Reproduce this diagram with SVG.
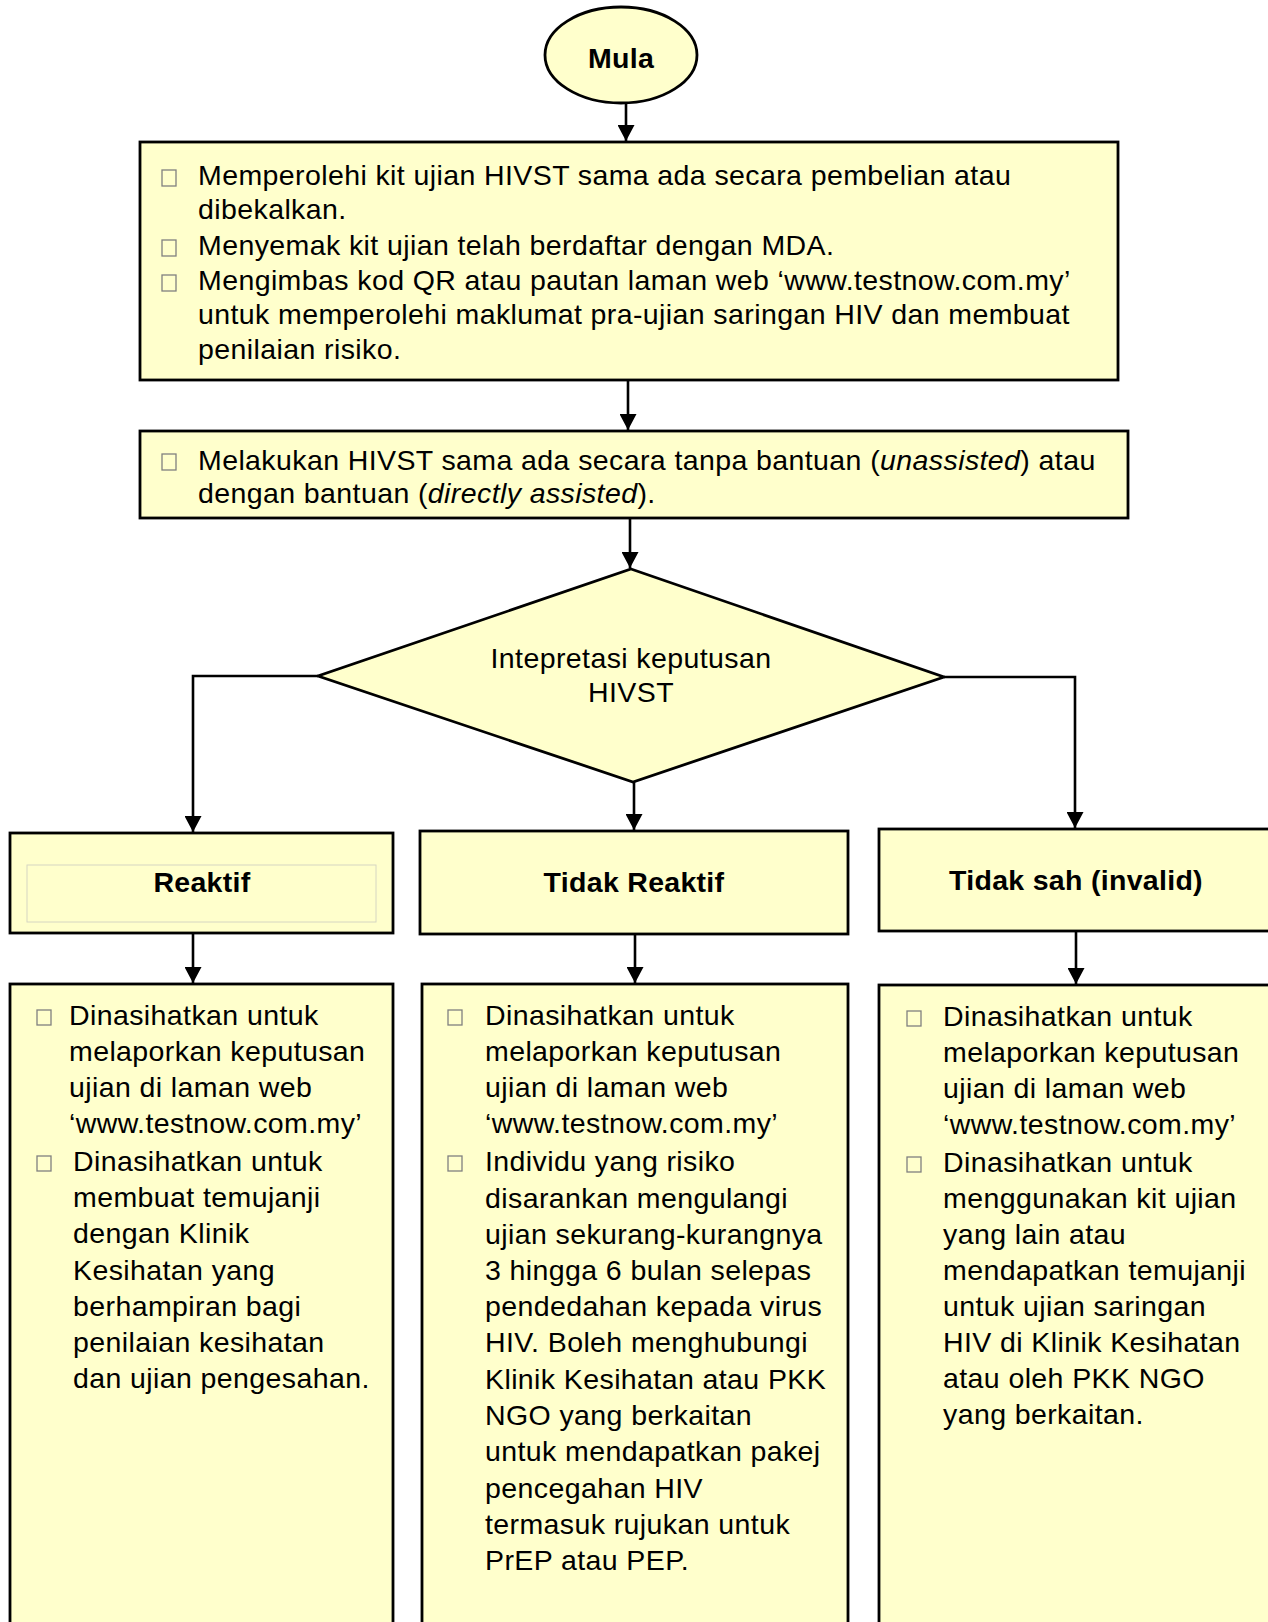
<svg xmlns="http://www.w3.org/2000/svg" width="1268" height="1622" viewBox="0 0 1268 1622">
<defs>
<marker id="arr" markerUnits="userSpaceOnUse" markerWidth="16" markerHeight="17" refX="16" refY="8.5" orient="auto">
<path d="M0,0 L16,8.5 L0,17 z" fill="#000"/>
</marker>
<style>
.box{fill:#FFFFCC;stroke:#000;stroke-width:2.8}
.t{font-family:"Liberation Sans",Arial,sans-serif;font-size:28.5px;letter-spacing:0.4px;fill:#000}
.b{font-weight:bold;letter-spacing:0.3px}
.c{text-anchor:middle}
.bul{fill:none;stroke:#808080;stroke-width:1.3}
.con{fill:none;stroke:#000;stroke-width:2.6;marker-end:url(#arr)}
</style>
</defs>
<rect width="1268" height="1622" fill="#fff"/>

<g id="connectors">
<path class="con" d="M626,103 V141"/>
<path class="con" d="M628,380 V430"/>
<path class="con" d="M630,518 V568"/>
<path class="con" d="M318,676 H193 V832"/>
<path class="con" d="M634,782 V830"/>
<path class="con" d="M944,677 H1075 V828"/>
<path class="con" d="M193,933 V983"/>
<path class="con" d="M635,934 V983"/>
<path class="con" d="M1076,931 V984"/>
</g>

<g id="mula">
<ellipse class="box" cx="621" cy="55" rx="76" ry="48"/>
<text class="t b c" x="621" y="68">Mula</text>
</g>

<g id="step1">
<rect class="box" x="140" y="142" width="978" height="238"/>
<rect class="bul" x="162" y="170" width="14" height="16"/>
<rect class="bul" x="162" y="240" width="14" height="16"/>
<rect class="bul" x="162" y="275" width="14" height="16"/>
<text class="t" x="198" y="185">Memperolehi kit ujian HIVST sama ada secara pembelian atau</text>
<text class="t" x="198" y="219">dibekalkan.</text>
<text class="t" x="198" y="255">Menyemak kit ujian telah berdaftar dengan MDA.</text>
<text class="t" x="198" y="290">Mengimbas kod QR atau pautan laman web ‘www.testnow.com.my’</text>
<text class="t" x="198" y="324">untuk memperolehi maklumat pra-ujian saringan HIV dan membuat</text>
<text class="t" x="198" y="359">penilaian risiko.</text>
</g>

<g id="step2">
<rect class="box" x="140" y="431" width="988" height="87"/>
<rect class="bul" x="162" y="454" width="14" height="16"/>
<text class="t" x="198" y="470">Melakukan HIVST sama ada secara tanpa bantuan (<tspan font-style="italic">unassisted</tspan>) atau</text>
<text class="t" x="198" y="503">dengan bantuan (<tspan font-style="italic">directly assisted</tspan>).</text>
</g>

<g id="decision">
<polygon class="box" points="631,569 944,677 633,782 318,676"/>
<text class="t c" x="631" y="668">Intepretasi keputusan</text>
<text class="t c" x="631" y="702">HIVST</text>
</g>

<g id="reaktif">
<rect class="box" x="10" y="833" width="383" height="100"/>
<rect x="27" y="865" width="349" height="57" fill="none" stroke="#d6d6c2" stroke-width="1"/>
<text class="t b c" x="202" y="892">Reaktif</text>
</g>

<g id="tidak-reaktif">
<rect class="box" x="420" y="831" width="428" height="103"/>
<text class="t b c" x="634" y="892">Tidak Reaktif</text>
</g>

<g id="tidak-sah">
<rect class="box" x="879" y="829" width="410" height="102"/>
<text class="t b c" x="1076" y="890">Tidak sah (invalid)</text>
</g>

<g id="reaktif-action">
<rect class="box" x="10" y="984" width="383" height="660"/>
<rect class="bul" x="37" y="1010" width="14" height="15"/>
<rect class="bul" x="37" y="1156" width="14" height="15"/>
<text class="t" x="69" y="1025">Dinasihatkan untuk</text>
<text class="t" x="69" y="1061">melaporkan keputusan</text>
<text class="t" x="69" y="1097">ujian di laman web</text>
<text class="t" x="69" y="1133">‘www.testnow.com.my’</text>
<text class="t" x="73" y="1171">Dinasihatkan untuk</text>
<text class="t" x="73" y="1207">membuat temujanji</text>
<text class="t" x="73" y="1243">dengan Klinik</text>
<text class="t" x="73" y="1280">Kesihatan yang</text>
<text class="t" x="73" y="1316">berhampiran bagi</text>
<text class="t" x="73" y="1352">penilaian kesihatan</text>
<text class="t" x="73" y="1388">dan ujian pengesahan.</text>
</g>

<g id="tidak-reaktif-action">
<rect class="box" x="422" y="984" width="426" height="660"/>
<rect class="bul" x="448" y="1010" width="14" height="15"/>
<rect class="bul" x="448" y="1156" width="14" height="15"/>
<text class="t" x="485" y="1025">Dinasihatkan untuk</text>
<text class="t" x="485" y="1061">melaporkan keputusan</text>
<text class="t" x="485" y="1097">ujian di laman web</text>
<text class="t" x="485" y="1133">‘www.testnow.com.my’</text>
<text class="t" x="485" y="1171">Individu yang risiko</text>
<text class="t" x="485" y="1208">disarankan mengulangi</text>
<text class="t" x="485" y="1244">ujian sekurang-kurangnya</text>
<text class="t" x="485" y="1280">3 hingga 6 bulan selepas</text>
<text class="t" x="485" y="1316">pendedahan kepada virus</text>
<text class="t" x="485" y="1352">HIV. Boleh menghubungi</text>
<text class="t" x="485" y="1389">Klinik Kesihatan atau PKK</text>
<text class="t" x="485" y="1425">NGO yang berkaitan</text>
<text class="t" x="485" y="1461">untuk mendapatkan pakej</text>
<text class="t" x="485" y="1498">pencegahan HIV</text>
<text class="t" x="485" y="1534">termasuk rujukan untuk</text>
<text class="t" x="485" y="1570">PrEP atau PEP.</text>
</g>

<g id="tidak-sah-action">
<rect class="box" x="879" y="985" width="410" height="660"/>
<rect class="bul" x="907" y="1011" width="14" height="15"/>
<rect class="bul" x="907" y="1157" width="14" height="15"/>
<text class="t" x="943" y="1026">Dinasihatkan untuk</text>
<text class="t" x="943" y="1062">melaporkan keputusan</text>
<text class="t" x="943" y="1098">ujian di laman web</text>
<text class="t" x="943" y="1134">‘www.testnow.com.my’</text>
<text class="t" x="943" y="1172">Dinasihatkan untuk</text>
<text class="t" x="943" y="1208">menggunakan kit ujian</text>
<text class="t" x="943" y="1244">yang lain atau</text>
<text class="t" x="943" y="1280">mendapatkan temujanji</text>
<text class="t" x="943" y="1316">untuk ujian saringan</text>
<text class="t" x="943" y="1352">HIV di Klinik Kesihatan</text>
<text class="t" x="943" y="1388">atau oleh PKK NGO</text>
<text class="t" x="943" y="1424">yang berkaitan.</text>
</g>
</svg>
